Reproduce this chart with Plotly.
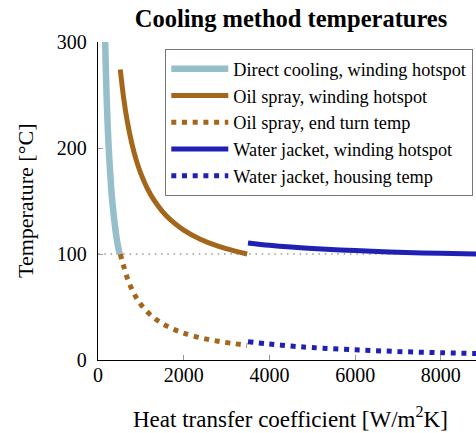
import plotly.graph_objects as go

# ---- data ----
direct_h = [160, 180, 200, 225, 250, 280, 320, 360, 400, 450, 504]
direct_T = [312, 278, 250, 222, 200, 179, 156, 139, 125, 111, 100]

oil_wind_h = [520, 600, 680, 790, 900, 1000, 1150, 1300, 1500, 1700, 2000, 2400, 2800, 3200, 3480]
oil_wind_T = [274.0, 246.7, 225.9, 204.1, 187.6, 175.8, 161.9, 151.2, 140.3, 132.0, 122.6, 113.7, 107.4, 102.7, 100.0]

oil_end_h = [520, 600, 700, 800, 900, 1000, 1200, 1400, 1600, 1800, 2000, 2400, 2800, 3200, 3480]
oil_end_T = [100.0, 88.4, 75.5, 65.9, 58.4, 52.4, 43.4, 37.0, 32.2, 28.4, 25.4, 20.9, 17.7, 15.3, 13.9]

wj_wind_h = [3500, 4000, 4500, 5000, 6000, 7000, 8000, 9000]
wj_wind_T = [110.4, 108.2, 106.5, 105.2, 103.2, 101.7, 100.6, 99.8]

wj_house_h = [3500, 4000, 4500, 5000, 6000, 7000, 8000, 9000]
wj_house_T = [17.3, 15.0, 13.2, 11.7, 9.6, 8.0, 6.9, 6.0]

x_ticks = [0, 2000, 4000, 6000, 8000]
y_ticks = [0, 100, 200, 300]

names = ["Direct cooling, winding hotspot", "Oil spray, winding hotspot",
         "Oil spray, end turn temp", "Water jacket, winding hotspot",
         "Water jacket, housing temp"]

LIGHTBLUE = "#96BECB"
BROWN = "#A3661A"
BLUE = "#2020B4"
FONT = "Liberation Serif"

W, H = 476, 433
L, R, T, B = 98, 0, 42, 73

fig = go.Figure()
series = [
    (direct_h, direct_T, LIGHTBLUE, 6.5, "solid"),
    (oil_wind_h, oil_wind_T, BROWN, 5, "solid"),
    (oil_end_h, oil_end_T, BROWN, 5, "5px,5.7px"),
    (wj_wind_h, wj_wind_T, BLUE, 5, "solid"),
    (wj_house_h, wj_house_T, BLUE, 5, "5px,5.7px"),
]
for i, (xs, ys, c, w, d) in enumerate(series):
    fig.add_trace(go.Scatter(x=xs, y=ys, mode="lines", name=names[i],
                             line=dict(color=c, width=w, dash=d, shape="spline"),
                             legendgroup=f"g{i}"))

fig.add_shape(type="line", xref="paper", x0=0, x1=1, yref="y", y0=100, y1=100,
              line=dict(color="#999999", width=1.3, dash="1.5px,4.8px"), layer="below")

fig.update_layout(
    width=W, height=H,
    margin=dict(l=L, r=R, t=T, b=B, autoexpand=False),
    paper_bgcolor="white", plot_bgcolor="white",
    font=dict(family=FONT, color="black"),
    title=dict(text="<b>Cooling method temperatures</b>", font=dict(size=24.5, family=FONT),
               x=291 / W, xref="container", xanchor="center",
               y=1 - 18 / H, yref="container", yanchor="middle"),
    xaxis=dict(range=[0, 8820], tickvals=x_ticks, ticks="inside", ticklen=5,
               tickcolor="#999999", tickwidth=1, showline=True, linecolor="black",
               linewidth=1.3, showgrid=False, zeroline=False,
               tickfont=dict(size=20, family=FONT), ticklabelstandoff=-3),
    xaxis2=dict(overlaying="x", matches="x", side="top", anchor="y",
                tickvals=x_ticks, ticks="inside", ticklen=5, tickcolor="#999999",
                showline=True, linecolor="#888888", linewidth=1,
                showticklabels=False, showgrid=False, zeroline=False),
    yaxis=dict(range=[0, 300], tickvals=y_ticks, ticks="inside", ticklen=5,
               tickcolor="#999999", tickwidth=1, showline=True, linecolor="black",
               linewidth=1.3, showgrid=False, zeroline=False,
               tickfont=dict(size=20, family=FONT), ticklabelstandoff=6),
    legend=dict(x=(165 - L) / (W - L - R), y=(360 - 49) / (H - T - B),
                xanchor="left", yanchor="top", bgcolor="white",
                bordercolor="#777777", borderwidth=1.3,
                font=dict(size=18.3, family=FONT), tracegroupgap=9,
                itemwidth=57, traceorder="normal"),
    showlegend=True,
)

fig.add_annotation(text="Heat transfer coefficient [W/m<sup>2</sup>K]", xref="paper", yref="paper",
                   x=(290 - L) / (W - L - R), y=-(417 - 360) / (H - T - B),
                   xanchor="center", yanchor="middle", showarrow=False,
                   font=dict(size=23, family=FONT))
fig.add_annotation(text="Temperature [°C]", xref="paper", yref="paper",
                   x=-(L - 25) / (W - L - R), y=(360 - 201) / (H - T - B),
                   xanchor="center", yanchor="middle", showarrow=False, textangle=-90,
                   font=dict(size=22, family=FONT))

fig.write_html("out.html")
